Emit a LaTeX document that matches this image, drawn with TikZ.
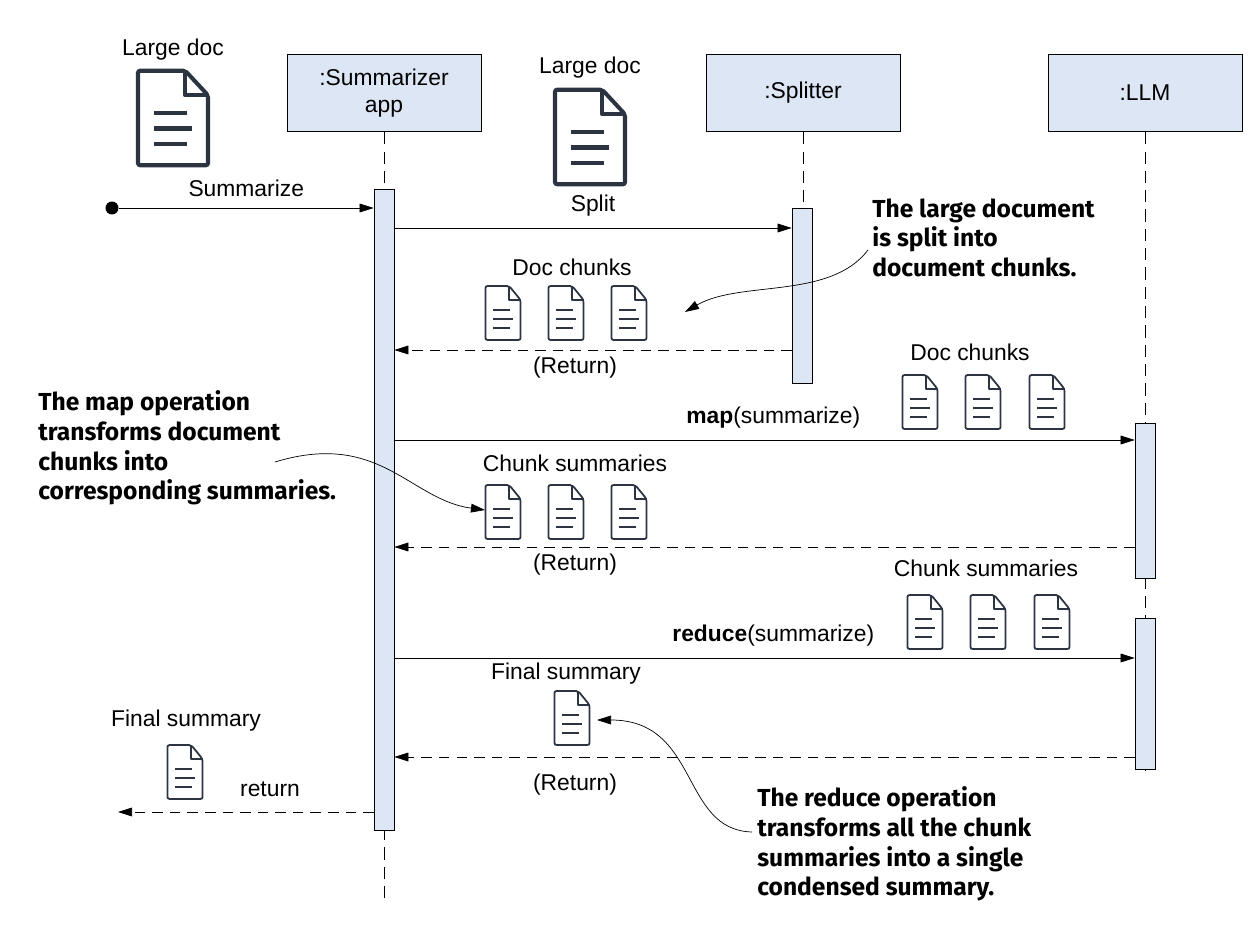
\documentclass[tikz,border=0pt]{standalone}
\usepackage{fontspec}
\setmainfont{Liberation Sans}
\newfontfamily\notefont{Fira Sans}
\usetikzlibrary{arrows.meta,positioning}
\definecolor{boxfill}{HTML}{DDE6F4}
\definecolor{iconcol}{HTML}{2B3440}
\newcommand{\pxu}{pt*0.5669}

\tikzset{
  life box/.style={draw,fill=boxfill,minimum width=195\pxu,minimum height=78\pxu,align=center,font=\fontsize{13}{15}\selectfont},
  act bar/.style={draw,fill=boxfill,minimum width=20\pxu,inner sep=0pt},
  lifeline/.style={dashed,dash pattern=on 7pt off 4pt},
  msg/.style={-{Triangle[length=8pt,width=5pt]}},
  ret/.style={msg,dash pattern=on 6pt off 4pt},
  lbl/.style={font=\fontsize{13}{15}\selectfont},
  note/.style={align=left,font=\notefont\bfseries\fontsize{14}{17}\selectfont,inner sep=0pt},
  note arrow/.style={-{Triangle[length=8pt,width=5pt]},thin},
  doc/.pic={
    \draw[iconcol,rounded corners=1.2,line width=#1] (-20,27) -- (-20,-27) -- (7,-27) -- (20,-13) -- (20,27) -- cycle;
    \draw[iconcol,line width=#1,line join=round] (7,-27) -- (7,-13) -- (20,-13);
    \draw[iconcol,line width=#1] (-11,-3) -- (8,-3) (-11,6) -- (11,6) (-11,15) -- (8,15);
  }
}

\begin{document}
\begin{tikzpicture}[x=0.02cm,y=-0.02cm]
  \useasboundingbox (0,0) rectangle (1252,932);

  % lifelines
  \node[life box] (app) at (384,93) {:Summarizer\\app};
  \node[life box] (split) at (803,93) {:Splitter};
  \node[life box] (llm) at (1145,93) {:LLM};
  \coordinate (append) at (384,905);
  \coordinate (splitend) at (803,383);
  \coordinate (llmend) at (1145,770);
  \draw[lifeline] (app) -- (append);
  \draw[lifeline] (split) -- (splitend);
  \draw[lifeline] (llm) -- (llmend);

  % activation bars
  \node[act bar,minimum height=644\pxu] (appbar) at (384,510) {};
  \node[act bar,minimum height=175\pxu] (splitbar) at (802,296) {};
  \node[act bar,minimum height=155\pxu] (mapbar) at (1145,501) {};
  \node[act bar,minimum height=152\pxu] (redbar) at (1145,694) {};

  % messages
  \node[circle,fill,inner sep=0pt,minimum size=13\pxu] (start) at (112,208) {};
  \draw[msg] (start) -- (start -| appbar.west) node[lbl,midway,above=3pt] {Summarize};
  \draw[msg] (appbar.east |- 0,228) -- (splitbar.west |- 0,228) node[lbl,midway,above=3pt] {Split};
  \draw[ret] (splitbar.west |- 0,350) -- (appbar.east |- 0,350);
  \node[lbl] at (575,368) {(Return)};
  \draw[msg] (appbar.east |- 0,440) -- (mapbar.west |- 0,440) node[lbl,midway,above=3pt,xshift=5pt] {\textbf{map}(summarize)};
  \draw[ret] (mapbar.west |- 0,547) -- (appbar.east |- 0,547);
  \node[lbl] at (575,565) {(Return)};
  \draw[msg] (appbar.east |- 0,658) -- (redbar.west |- 0,658) node[lbl,midway,above=3pt,xshift=5pt] {\textbf{reduce}(summarize)};
  \draw[ret] (redbar.west |- 0,757) -- (appbar.east |- 0,757);
  \node[lbl] at (575,785) {(Return)};
  \coordinate (out) at (118,812);
  \draw[ret] (appbar.west |- out) -- (out);
  \node[lbl] at (270,789) {return};

  % documents
  \node[lbl] at (173,50) {Large doc};
  \pic at (173,118) [scale=1.75] {doc=2.3pt};
  \node[lbl] at (590,68) {Large doc};
  \pic at (590,137) [scale=1.75] {doc=2.3pt};
  \node[lbl] at (572,267) {Doc chunks};
  \foreach \x in {503,566,629} \pic at (\x,313) [xscale=0.88] {doc=1pt};
  \node[lbl] at (970,352) {Doc chunks};
  \foreach \x in {920,983,1047} \pic at (\x,402) [xscale=0.88] {doc=1pt};
  \node[lbl] at (575,463) {Chunk summaries};
  \foreach \x in {503,566,629} \pic at (\x,512) [xscale=0.88] {doc=1pt};
  \node[lbl] at (986,568) {Chunk summaries};
  \foreach \x in {925,988,1052} \pic at (\x,622) [xscale=0.88] {doc=1pt};
  \node[lbl] at (566,674) {Final summary};
  \pic at (572,718) [xscale=0.88] {doc=1pt};
  \node[lbl] at (186,721) {Final summary};
  \pic at (185,772) [xscale=0.88] {doc=1pt};

  % notes
  \node[note,anchor=north west] (splitnote) at (872,198) {The large document\\is split into\\document chunks.};
  \node[note,anchor=north west] (mapnote) at (38,390) {The map operation\\transforms document\\chunks into\\corresponding summaries.};
  \node[note,anchor=north west] (rednote) at (757,786) {The reduce operation\\transforms all the chunk\\summaries into a single\\condensed summary.};
  \coordinate (splittip) at (685,312);
  \coordinate (maptip) at (485,510);
  \coordinate (redtip) at (597,720);
  \draw[note arrow] (868,250) .. controls (830,300) and (740,280) .. (splittip);
  \draw[note arrow] (275,462) .. controls (380,430) and (410,500) .. (maptip);
  \draw[note arrow] (752,832) .. controls (680,830) and (700,720) .. (redtip);
\end{tikzpicture}
\end{document}
